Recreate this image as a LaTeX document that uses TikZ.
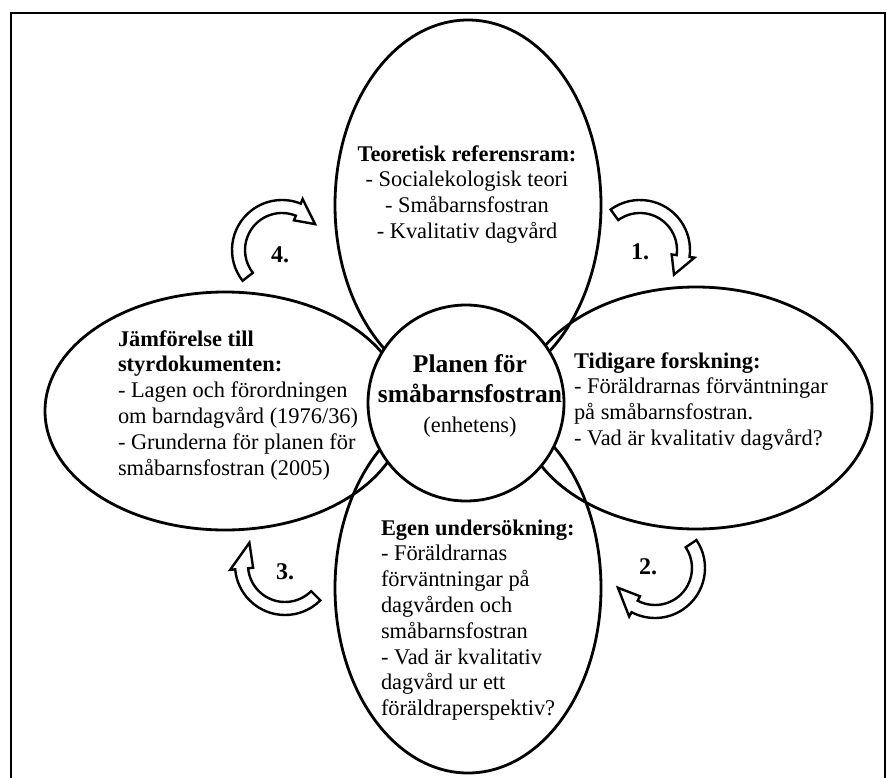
\documentclass[tikz,border=0pt]{standalone}
\usepackage{fontspec}
\setmainfont{Liberation Serif}
\usetikzlibrary{shapes.geometric}
\tikzset{
  oval/.style={ellipse, draw=black, line width=2.8pt, inner sep=0pt, outer sep=0pt},
  hub/.style={circle, draw=black, line width=2.8pt, fill=white, inner sep=0pt, outer sep=0pt, minimum size=196pt},
  txt/.style={inner sep=0pt, outer sep=0pt, font=\fontsize{22.4}{25.8}\selectfont, text=black},
  hubtxt/.style={inner sep=0pt, outer sep=0pt, font=\fontsize{25.5}{30}\selectfont, text=black, align=center},
  blockarrow/.style={draw=black, line width=2.4pt, fill=white, line join=miter},
  numlbl/.style={inner sep=0pt, outer sep=0pt, font=\bfseries\fontsize{24}{26}\selectfont},
  frame/.style={draw=black, line width=2.6pt}
}
\newcommand{\blockarc}[4]{%
  \draw[blockarrow, shift={(#1)}] (#2:50pt) arc[start angle=#2, end angle=#3, radius=50pt]
    -- (#3:55pt) -- (#4:42pt) -- (#3:32pt) -- (#3:37pt)
    arc[start angle=#3, end angle=#2, radius=37pt] -- cycle;}
\begin{document}
\begin{tikzpicture}[x=1pt,y=1pt]
\useasboundingbox (0,0) rectangle (896,-778);
\fill[white] (0,0) rectangle (896,-778);
\draw[frame] (11,-900) -- (11,-13) -- (885,-13) -- (885,-900);

% ellipses
\node[oval, minimum width=266pt, minimum height=370pt] (top) at (468,-205) {};
\node[oval, minimum width=266pt, minimum height=370pt] (bottom) at (468,-588) {};
\node[oval, minimum width=360pt, minimum height=238pt] (left) at (225,-411) {};
\node[oval, minimum width=352pt, minimum height=242pt] (right) at (696,-408) {};
\node[hub] (hub) at (466,-403) {};

% texts
\node[txt, anchor=north, align=center] (toptext) at (467,-143)
  {\strut\textbf{Teoretisk referensram:}\\- Socialekologisk teori\\- Småbarnsfostran\\- Kvalitativ dagvård};
\node[txt, anchor=north west, align=left] (lefttext) at (118,-328)
  {\strut\textbf{Jämförelse till}\\\textbf{styrdokumenten:}\\- Lagen och förordningen\\om barndagvård (1976/36)\\- Grunderna för planen för\\småbarnsfostran (2005)};
\node[txt, anchor=north west, align=left] (righttext) at (574,-350)
  {\strut\textbf{Tidigare forskning:}\\- Föräldrarnas förväntningar\\på småbarnsfostran.\\- Vad är kvalitativ dagvård?};
\node[txt, anchor=north west, align=left] (bottomtext) at (381,-517)
  {\strut\textbf{Egen undersökning:}\\- Föräldrarnas\\förväntningar på\\dagvården och\\småbarnsfostran\\- Vad är kvalitativ\\dagvård ur ett\\föräldraperspektiv?};
\node[hubtxt, anchor=north] (hubtext) at (470,-351)
  {\strut\textbf{Planen för}\\\textbf{småbarnsfostran}\\{\fontsize{22.4}{30}\selectfont (enhetens)}};

% cycle arrows
\coordinate (c1) at (640,-250);
\coordinate (c2) at (655,-568);
\coordinate (c3) at (285,-565);
\coordinate (c4) at (282,-250);
\blockarc{c1}{126}{-8}{-36}
\blockarc{c2}{34}{-118}{-152}
\blockarc{c3}{315}{185}{148}
\blockarc{c4}{218}{68}{38}
\node[numlbl] (n1) at (640,-252) {1.};
\node[numlbl] (n2) at (648,-567) {2.};
\node[numlbl] (n3) at (285,-572) {3.};
\node[numlbl] (n4) at (280,-255) {4.};
\end{tikzpicture}
\end{document}
